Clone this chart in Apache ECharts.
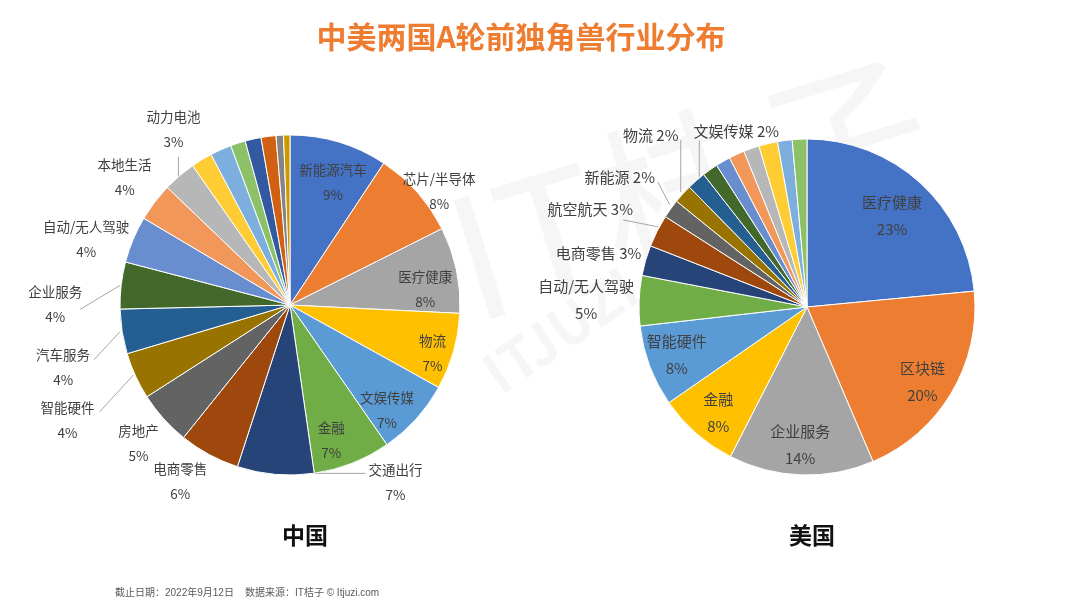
<!DOCTYPE html>
<html><head><meta charset="utf-8">
<script src="https://cdn.jsdelivr.net/npm/echarts@6/dist/echarts.min.js"></script>
<style>html,body{margin:0;padding:0;background:#fff}#c{width:1080px;height:615px}</style>
</head><body><div id="c"></div>
<script>
// ---------- data ----------
const chinaNames = ['新能源汽车','芯片/半导体','医疗健康','物流','文娱传媒','金融','交通出行','电商零售','房地产','智能硬件','汽车服务','企业服务','自动/无人驾驶','本地生活','动力电池','其他1','其他2','其他3','其他4','其他5','其他6','其他7'];
const chinaValues = [9.2,8.2,8.1,7.2,7.2,7.3,7.2,5.7,5.1,4.4,4.2,4.4,4.4,3.6,3.1,2.0,2.0,1.4,1.5,1.4,0.7,0.6];
const usNames = ['医疗健康','区块链','企业服务','金融','智能硬件','自动/无人驾驶','电商零售','航空航天','新能源','物流','文娱传媒','其他1','其他2','其他3','其他4','其他5','其他6','其他7'];
const usValues = [23.4,20,13.9,7.8,7.8,4.8,2.9,3.1,1.8,1.8,1.8,1.5,1.4,1.5,1.5,1.8,1.4,1.4];
const chartTitle = '中美两国A轮前独角兽行业分布';
const chinaCaption = '中国';
const usCaption = '美国';
const footerText = '截止日期：2022年9月12日    数据来源：IT桔子 © Itjuzi.com';

// ---------- style / layout ----------
const palette = ['#4472C4','#ED7D31','#A5A5A5','#FFC000','#5B9BD5','#70AD47','#264478','#9E480E','#636363','#997300','#255E91','#43682B','#698ED0','#F1975A','#B7B7B7','#FFCD33','#7CAFDD','#8CC168','#335AA1','#D26012','#848484','#CC9A00'];
const FONT = '"Noto Sans CJK SC","Noto Sans",sans-serif';

// label placement: offset from the slice's outer-edge midpoint, optional leader line
const chinaLabelSpec = {
  '新能源汽车': {d:[-6,40]},
  '芯片/半导体': {d:[22,-1]},
  '医疗健康': {d:[-31,19]},
  '物流': {d:[-21,2]},
  '文娱传媒': {d:[-29,-9]},
  '金融': {d:[-21,-23]},
  '交通出行': {d:[120,8], line:[[36,-1],[90,-1]]},
  '电商零售': {d:[-29,27]},
  '房地产': {d:[-25,25]},
  '智能硬件': {d:[-68,44], line:[[-2,-1],[-36,36]]},
  '汽车服务': {d:[-59,36], line:[[-2,0],[-28,28]]},
  '企业服务': {d:[-66,19], line:[[-1,0],[-41,24]]},
  '自动/无人驾驶': {d:[-47,0]},
  '本地生活': {d:[-30,-25]},
  '动力电池': {d:[-6,-47], line:[[-1,1],[-1,-19]]}
};
const usLabelSpec = {
  '医疗健康': {d:[-28,33]},
  '区块链': {d:[-29,-11]},
  '企业服务': {d:[-1,-30]},
  '金融': {d:[22,-21]},
  '智能硬件': {d:[27,-11]},
  '自动/无人驾驶': {d:[-53,-1]},
  '电商零售': {d:[-47,-7], one:true},
  '航空航天': {d:[-67,-22], one:true, line:[[1,-4],[-34,-11]]},
  '新能源': {d:[-51,-31], one:true, line:[[-1,-4],[-13,-27]]},
  '物流': {d:[-32,-59], one:true, line:[[-2,-2],[-2,-54]]},
  '文娱传媒': {d:[40,-49], one:true, line:[[3,-4],[3,-40]]}
};

function makeSeries(names, values, spec, cx, cy, R, fontSize, lineHeight) {
  const total = values.reduce((a,b)=>a+b,0);
  const cum = []; let s = 0; values.forEach(v=>{cum.push(s); s+=v;});
  return {
    type:'pie', center:[cx,cy], radius:R, startAngle:90, clockwise:true,
    avoidLabelOverlap:false, animation:false, silent:true,
    itemStyle:{borderColor:'#fff', borderWidth:1},
    label:{color:'#404040', fontSize:fontSize, lineHeight:lineHeight, fontFamily:FONT, overflow:'none',
      formatter:function(p){ const sp = spec[p.name]; const pct = Math.round(p.value)+'%'; return sp && sp.one ? p.name+' '+pct : p.name+'\n'+pct; }},
    labelLine:{lineStyle:{color:'#A6A6A6', width:1}, smooth:false},
    labelLayout:function(p){
      const i = p.dataIndex; const sp = spec[names[i]];
      if (!sp) return {};
      const a = (cum[i] + values[i]/2)/total*2*Math.PI;
      const ax = cx + R*Math.sin(a), ay = cy - R*Math.cos(a);
      const o = {x: ax+sp.d[0], y: ay+sp.d[1], align:'center', verticalAlign:'middle'};
      if (sp.line) {
        const p1 = [ax+sp.line[0][0], ay+sp.line[0][1]], p2 = [ax+sp.line[1][0], ay+sp.line[1][1]];
        o.labelLinePoints = [p1, p2, p2.slice()];
      }
      return o;
    },
    data: names.map((n,i)=>{
      const sp = spec[n];
      return {name:n, value:values[i], itemStyle:{color:palette[i % palette.length]},
        label:{show:!!sp, position: sp && sp.line ? 'outside' : 'inside'},
        labelLine:{show:!!(sp && sp.line)}};
    })
  };
}

const chart = echarts.init(document.getElementById('c'), null, {renderer:'canvas'});
chart.setOption({
  backgroundColor:'#ffffff',
  animation:false,
  graphic:[
    {type:'text', x:690, y:190, rotation:0.3, z:-10, silent:true,
      style:{text:'IT桔子', font:'170px '+FONT, fill:'#f6f6f6', align:'center', verticalAlign:'middle'}},
    {type:'text', x:560, y:330, rotation:0.6, z:-10, silent:true,
      style:{text:'ITJUZI', font:'bold 56px '+FONT, fill:'#f6f6f6', align:'center', verticalAlign:'middle'}},
    {type:'text', x:521, y:37, style:{text:chartTitle, font:'bold 30px '+FONT, fill:'#EE7D31', align:'center', verticalAlign:'middle'}},
    {type:'text', x:305, y:535, style:{text:chinaCaption, font:'bold 23px '+FONT, fill:'#111', align:'center', verticalAlign:'middle'}},
    {type:'text', x:812, y:535, style:{text:usCaption, font:'bold 23px '+FONT, fill:'#111', align:'center', verticalAlign:'middle'}},
    {type:'text', x:115, y:593, style:{text:footerText, font:'10px "Liberation Sans","Noto Sans CJK SC",sans-serif', fill:'#595959', align:'left', verticalAlign:'middle'}}
  ],
  series:[
    makeSeries(chinaNames, chinaValues, chinaLabelSpec, 290, 305, 170, 13.5, 25),
    makeSeries(usNames, usValues, usLabelSpec, 807, 307, 168, 15, 27)
  ]
});
</script></body></html>
